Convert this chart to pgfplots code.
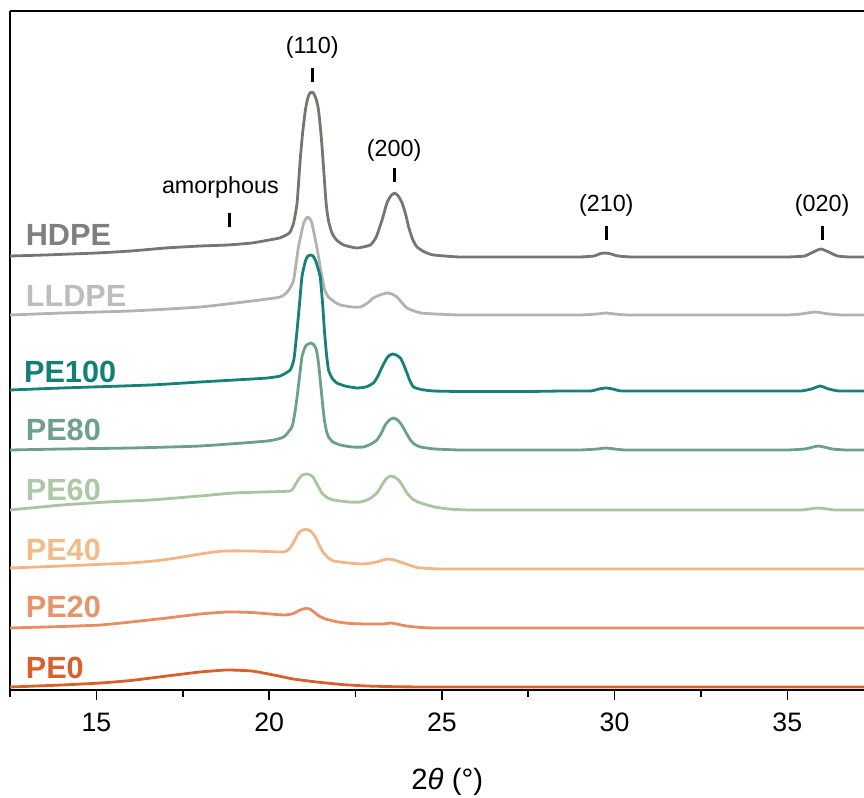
\documentclass[border=0pt]{standalone}
\usepackage{fontspec}
\setmainfont{Liberation Sans}
\usepackage{pgfplots}
\pgfplotsset{compat=1.18}
\definecolor{lHD}{HTML}{76766E}
\definecolor{tHD}{HTML}{7F7F7F}
\definecolor{lLL}{HTML}{B3B3AD}
\definecolor{tLL}{HTML}{BDBDBD}
\definecolor{lP100}{HTML}{17807A}
\definecolor{tP100}{HTML}{138078}
\definecolor{lP80}{HTML}{6AA08C}
\definecolor{tP80}{HTML}{6F9F8D}
\definecolor{lP60}{HTML}{A8C5A0}
\definecolor{tP60}{HTML}{ADC8A6}
\definecolor{lP40}{HTML}{F3B486}
\definecolor{tP40}{HTML}{F0BC88}
\definecolor{lP20}{HTML}{E88C62}
\definecolor{tP20}{HTML}{E8946A}
\definecolor{lP0}{HTML}{D95F2C}
\definecolor{tP0}{HTML}{D9602A}
\begin{document}
\begin{tikzpicture}
\begin{axis}[
  scale only axis, width=640.5pt, height=509.25pt,
  xmin=12.5, xmax=37.22, ymin=-1, ymax=678,
  axis x line*=bottom, axis y line*=left,
  axis line style={line width=1.2pt, black},
  ytick=\empty,
  xtick={15,20,25,30,35}, minor xtick={12.5,17.5,22.5,27.5,32.5},
  xtick align=outside, major tick length=7.5pt, minor tick length=5pt,
  tick style={line width=1.2pt, black},
  xticklabel style={font=\fontsize{20}{24}\selectfont},
  xticklabel shift=6pt,
  /pgf/number format/assume math mode=true,
  xlabel={2\textit{θ} (°)},
  xlabel style={font=\fontsize{22}{26}\selectfont, at={(rel axis cs:0.512,0)}, anchor=center, yshift=-69pt},
  every axis plot/.append style={line width=2.1pt, line join=round, smooth, tension=0.3},
]
\coordinate (bl) at (rel axis cs:0,0);
\coordinate (tl) at (rel axis cs:0,1);
\coordinate (tr) at (rel axis cs:1,1);

% HDPE
\addplot[lHD] coordinates {
(12.5,433) (13.5,434) (15,436) (16,438) (17,441) (18,443) (18.8,444) (19.5,446) (20,449) (20.3,451) (20.5,454) (20.61,457)
(20.71,466) (20.81,486) (20.9,529) (20.97,556) (21.05,579) (21.12,591) (21.18,596) (21.24,597) (21.3,595) (21.37,589)
(21.43,579) (21.5,556) (21.56,529) (21.65,486) (21.72,468) (21.82,456) (21.95,449) (22.16,444) (22.54,441) (22.93,444)
(23.1,452) (23.27,469) (23.41,486) (23.52,493) (23.63,496) (23.74,493) (23.85,486) (23.95,475) (24.04,462) (24.15,450)
(24.28,442) (24.5,437) (24.76,434) (25.5,432) (26.5,432) (27.5,432) (28.5,432) (29,432) (29.4,433) (29.6,435.5) (29.75,436) (29.9,435) (30.1,433)
(30.5,432) (31.5,432) (32.5,432) (33.5,432) (34.5,432) (35,432) (35.5,433) (35.75,437) (35.97,440) (36.2,437) (36.45,433) (36.8,432) (37.22,432)};

% LLDPE
\addplot[lLL] coordinates {
(12.5,374) (14,376) (16,378) (18,382) (19.5,388) (20.32,392) (20.55,398) (20.71,409) (20.85,442) (21.0,466) (21.11,472)
(21.18,470) (21.24,466) (21.38,442) (21.53,412) (21.62,398) (21.72,392) (21.9,387) (22.06,384) (22.4,382) (22.64,382)
(22.85,386) (23.02,391) (23.2,394) (23.41,396) (23.55,395) (23.7,392) (23.85,386) (23.99,381) (24.2,378) (24.38,376)
(24.8,375) (25.5,374) (26.5,374) (27.5,374) (28.5,374) (29,374) (29.5,375) (29.75,376) (30.0,375) (30.4,374) (31.5,374) (32.5,374) (33.5,374) (34.5,374) (35,374) (35.4,375) (35.8,377) (36.2,375)
(36.6,374) (37.22,374)};

% PE100
\addplot[lP100] coordinates {
(12.5,299) (14,301) (16.56,304) (18,307) (19.5,310) (19.95,311) (20.32,313) (20.61,319) (20.72,330) (20.81,359) (20.88,385)
(20.95,412) (21.05,428) (21.12,433) (21.19,434) (21.27,433) (21.35,428) (21.42,420) (21.48,412) (21.55,385) (21.6,359)
(21.66,335) (21.72,319) (21.82,311) (21.96,306) (22.2,303) (22.54,301) (22.8,302) (23.02,306) (23.15,313) (23.27,322)
(23.41,331) (23.5,334) (23.58,335) (23.68,334) (23.8,331) (23.9,324) (23.99,316) (24.08,308) (24.18,302) (24.4,299.5)
(24.76,298) (25.53,297.5) (26.5,297.5) (27.5,297.5) (28.5,298) (29.3,298) (29.55,300) (29.75,301) (29.95,300) (30.2,298) (31,298) (32,298) (33,298) (34,298) (35,298) (35.4,298)
(35.7,300) (35.95,303) (36.2,300) (36.5,298) (37.22,298)};

% PE80
\addplot[lP80] coordinates {
(12.5,239) (14,240) (16,241) (18,243) (19.95,248) (20.42,252) (20.66,262) (20.74,275) (20.81,292) (20.88,312) (20.95,332)
(21.02,340) (21.08,344) (21.21,346) (21.3,344) (21.37,339) (21.43,326) (21.48,309) (21.54,288) (21.6,269) (21.66,258)
(21.72,252) (21.85,247) (22.06,244) (22.4,242) (22.73,242) (22.95,245) (23.12,249) (23.25,256) (23.36,264) (23.48,269)
(23.6,271) (23.72,269) (23.84,264) (23.97,256) (24.09,249) (24.2,245) (24.38,242) (24.8,240) (25.53,239) (26.5,239) (27.5,239) (28.5,239) (29,239)
(29.5,240) (29.75,241) (30.0,240) (30.3,239) (31,239) (32,239) (33,239) (34,239) (35,239) (35.5,240) (35.9,243) (36.3,240) (36.7,239) (37.22,239)};

% PE60
\addplot[lP60] coordinates {
(12.5,179) (14,184) (15.3,187) (16.56,189) (18,193) (18.96,196) (19.8,197) (20.61,198) (20.75,204) (20.9,212) (21.0,214.5) (21.09,215)
(21.2,214) (21.29,211) (21.4,204) (21.53,196) (21.7,191) (21.87,189) (22.3,187) (22.64,187) (22.9,190) (23.12,196)
(23.25,203) (23.36,209) (23.45,212) (23.52,213) (23.62,212) (23.75,209) (23.87,203) (23.99,196) (24.15,190) (24.38,186)
(24.8,182) (25.2,180) (25.8,179) (27,179) (28.5,179) (30,179) (31.5,179) (33,179) (34.5,179) (35.4,179) (35.9,181) (36.4,179) (37.22,179)};

% PE40
\addplot[lP40] coordinates {
(12.5,121) (14,123) (15,124.5) (16,126) (16.8,128.5) (17.5,132) (18.1,135.5) (18.68,138) (19.5,138) (20.42,137) (20.58,140) (20.7,146) (20.85,156)
(20.97,159) (21.09,159.5) (21.2,158) (21.34,152) (21.46,143) (21.58,136) (21.72,131) (21.87,128) (22.3,126) (22.73,125)
(23.12,127) (23.3,129) (23.46,130) (23.62,129) (23.8,127) (24.05,124) (24.28,121.5) (24.6,120.5) (25,120) (25.53,120)
(26.5,120) (28,120) (29.5,120) (31,120) (32.5,120) (34,120) (35.5,120) (37.22,120)};

% PE20
\addplot[lP20] coordinates {
(12.5,61) (14,62.5) (15.12,64) (16,67) (17.04,71) (18,75) (18.78,77) (19.5,76.5) (20.42,74) (20.7,75.5) (20.9,79)
(21.05,80.5) (21.18,80) (21.3,77) (21.45,73) (21.63,70) (22,67) (22.35,65.5) (22.83,65) (23.31,65) (23.51,66) (23.7,65)
(23.89,63.5) (24.1,62.5) (24.4,61.5) (24.76,61) (25.3,61) (26,61) (27.5,61) (29,61) (30.5,61) (32,61) (33.5,61) (35,61) (37.22,61)};

% PE0
\addplot[lP0] coordinates {
(12.5,2) (14,4) (15.12,6) (16,8.5) (17.04,13) (18,17) (18.78,19) (19.5,18) (20.13,14) (20.7,10) (21.38,7) (22.1,4.5)
(22.83,3) (23.8,2.2) (24.76,2) (26,2) (27.5,2) (29,2) (30.5,2) (32,2) (33.5,2) (35,2) (37.22,2)};

% peak markers
\addplot[black, line width=2.25pt, sharp plot] coordinates {(18.85,462) (18.85,476)};
\addplot[black, line width=2.25pt, sharp plot] coordinates {(21.25,607) (21.25,621)};
\addplot[black, line width=2.25pt, sharp plot] coordinates {(23.62,507) (23.62,521)};
\addplot[black, line width=2.25pt, sharp plot] coordinates {(29.76,449) (29.76,463)};
\addplot[black, line width=2.25pt, sharp plot] coordinates {(36.01,449) (36.01,463)};

\begin{scope}[every node/.style={inner sep=0, anchor=base, font=\fontsize{17.5}{20}\selectfont}]
\node at (axis cs:18.59,495) {amorphous};
\node at (axis cs:21.25,635) {(110)};
\node at (axis cs:23.62,532) {(200)};
\node at (axis cs:29.76,477) {(210)};
\node at (axis cs:36.01,477) {(020)};
\end{scope}

\begin{scope}[every node/.style={inner sep=0, anchor=base west, font=\bfseries\fontsize{23}{26}\selectfont}]
\node[text=tHD] at (axis cs:12.95,444) {HDPE};
\node[text=tLL] at (axis cs:12.95,383) {LLDPE};
\node[text=tP100] at (axis cs:12.90,307) {PE100};
\node[text=tP80] at (axis cs:12.95,249) {PE80};
\node[text=tP60] at (axis cs:12.95,189) {PE60};
\node[text=tP40] at (axis cs:12.95,129) {PE40};
\node[text=tP20] at (axis cs:12.95,72) {PE20};
\node[text=tP0] at (axis cs:12.95,11) {PE0};
\end{scope}
\end{axis}
\draw[line width=1.2pt] (tl) -- (tr);
\pgfresetboundingbox
\path (bl) ++(-7.5pt,-80.25pt) coordinate (bbA);
\path (tr) ++(0pt,8.25pt) coordinate (bbB);
\path (bbA) rectangle (bbB);
\end{tikzpicture}
\end{document}
